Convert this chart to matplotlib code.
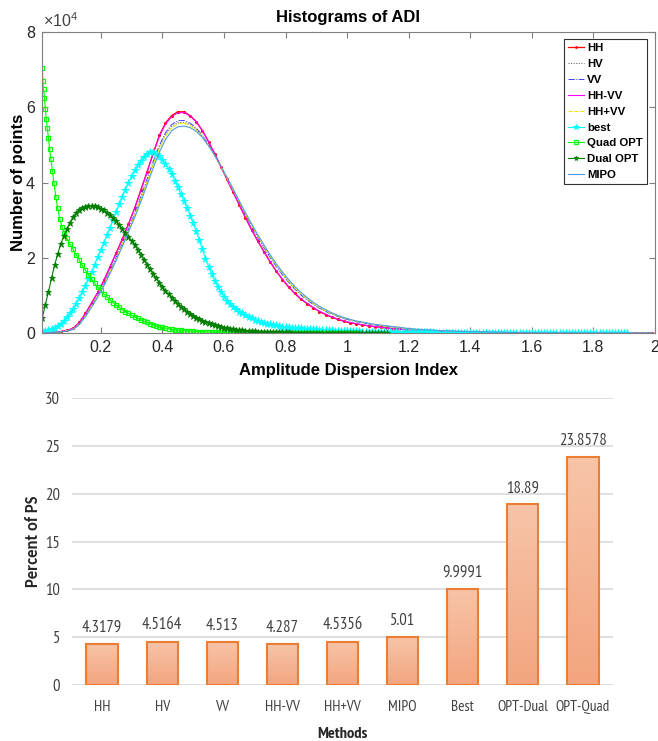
import numpy as np
import matplotlib
matplotlib.use('Agg')
import matplotlib.pyplot as plt
from matplotlib.colors import LinearSegmentedColormap
from matplotlib.ticker import FuncFormatter

plt.rcParams['mathtext.default'] = 'regular'

# ---------------- Histogram data (counts in units of 1e4) ----------------
adi = np.round(np.arange(0.01, 2.0, 0.02), 2)        # bin centres, coarse
adi_fine = np.round(np.arange(0.01, 2.0, 0.01), 2)   # bin centres, fine

hh = [0.00, 0.01, 0.02, 0.04, 0.07, 0.12, 0.28, 0.52, 0.80, 1.08,
      1.40, 1.76, 2.13, 2.50, 2.90, 3.32, 3.80, 4.28, 4.78, 5.25,
      5.58, 5.78, 5.88, 5.88, 5.78, 5.62, 5.38, 5.08, 4.76, 4.42,
      4.08, 3.74, 3.40, 3.06, 2.74, 2.44, 2.16, 1.89, 1.64, 1.42,
      1.22, 1.05, 0.90, 0.78, 0.67, 0.57, 0.49, 0.42, 0.36, 0.31,
      0.27, 0.24, 0.21, 0.19, 0.17, 0.15, 0.13, 0.11, 0.10, 0.09,
      0.08, 0.07, 0.06, 0.05, 0.045, 0.04, 0.035, 0.03, 0.027, 0.024,
      0.021, 0.019, 0.017, 0.015, 0.013, 0.012, 0.011, 0.010, 0.009, 0.008,
      0.007, 0.007, 0.006, 0.006, 0.005, 0.005, 0.004, 0.004, 0.004, 0.003,
      0.003, 0.003, 0.003, 0.002, 0.002, 0.002, 0.002, 0.002, 0.001, 0.001]

hv = [0.00, 0.01, 0.02, 0.03, 0.06, 0.10, 0.24, 0.46, 0.72, 0.99,
      1.29, 1.63, 1.99, 2.36, 2.74, 3.14, 3.58, 4.04, 4.50, 4.93,
      5.27, 5.49, 5.59, 5.60, 5.54, 5.42, 5.23, 4.99, 4.72, 4.42,
      4.11, 3.79, 3.47, 3.16, 2.85, 2.56, 2.29, 2.03, 1.79, 1.57,
      1.37, 1.19, 1.03, 0.90, 0.78, 0.68, 0.59, 0.51, 0.45, 0.39,
      0.35, 0.31, 0.28, 0.25, 0.22, 0.20, 0.18, 0.16, 0.14, 0.12,
      0.10, 0.09, 0.08, 0.07, 0.06, 0.055, 0.05, 0.045, 0.04, 0.035,
      0.03, 0.027, 0.024, 0.021, 0.019, 0.017, 0.015, 0.013, 0.012, 0.011,
      0.010, 0.009, 0.008, 0.007, 0.007, 0.006, 0.006, 0.005, 0.005, 0.004,
      0.004, 0.004, 0.003, 0.003, 0.003, 0.002, 0.002, 0.002, 0.002, 0.001]

vv = [0.00, 0.01, 0.02, 0.03, 0.06, 0.10, 0.24, 0.46, 0.72, 1.00,
      1.30, 1.65, 2.01, 2.38, 2.76, 3.17, 3.62, 4.08, 4.55, 4.98,
      5.32, 5.54, 5.64, 5.65, 5.58, 5.45, 5.25, 5.00, 4.72, 4.42,
      4.10, 3.78, 3.46, 3.14, 2.83, 2.54, 2.27, 2.01, 1.77, 1.55,
      1.35, 1.17, 1.01, 0.88, 0.76, 0.66, 0.57, 0.50, 0.44, 0.38,
      0.34, 0.30, 0.27, 0.24, 0.21, 0.19, 0.17, 0.15, 0.13, 0.12,
      0.10, 0.09, 0.08, 0.07, 0.06, 0.055, 0.05, 0.045, 0.04, 0.035,
      0.03, 0.027, 0.024, 0.021, 0.019, 0.017, 0.015, 0.013, 0.012, 0.011,
      0.010, 0.009, 0.008, 0.007, 0.007, 0.006, 0.006, 0.005, 0.005, 0.004,
      0.004, 0.004, 0.003, 0.003, 0.003, 0.002, 0.002, 0.002, 0.002, 0.001]

hh_minus_vv = [0.00, 0.01, 0.02, 0.04, 0.07, 0.12, 0.27, 0.51, 0.79, 1.07,
               1.39, 1.75, 2.12, 2.49, 2.89, 3.31, 3.78, 4.26, 4.76, 5.22,
               5.55, 5.75, 5.85, 5.86, 5.77, 5.61, 5.38, 5.09, 4.77, 4.43,
               4.09, 3.75, 3.41, 3.07, 2.75, 2.45, 2.17, 1.90, 1.65, 1.43,
               1.23, 1.06, 0.91, 0.79, 0.68, 0.58, 0.50, 0.43, 0.37, 0.32,
               0.28, 0.25, 0.22, 0.19, 0.17, 0.15, 0.13, 0.11, 0.10, 0.09,
               0.08, 0.07, 0.06, 0.05, 0.046, 0.041, 0.036, 0.031, 0.027, 0.024,
               0.021, 0.019, 0.017, 0.015, 0.014, 0.012, 0.011, 0.010, 0.009, 0.008,
               0.007, 0.007, 0.006, 0.006, 0.005, 0.005, 0.004, 0.004, 0.004, 0.003,
               0.003, 0.003, 0.003, 0.002, 0.002, 0.002, 0.002, 0.002, 0.001, 0.001]

hh_plus_vv = [0.00, 0.01, 0.02, 0.03, 0.06, 0.10, 0.23, 0.45, 0.71, 0.98,
              1.28, 1.62, 1.98, 2.35, 2.73, 3.13, 3.56, 4.01, 4.47, 4.90,
              5.24, 5.46, 5.56, 5.58, 5.52, 5.40, 5.22, 4.98, 4.71, 4.42,
              4.11, 3.80, 3.48, 3.17, 2.86, 2.57, 2.30, 2.04, 1.80, 1.58,
              1.38, 1.20, 1.04, 0.91, 0.79, 0.68, 0.59, 0.52, 0.45, 0.40,
              0.35, 0.31, 0.28, 0.25, 0.22, 0.20, 0.18, 0.16, 0.14, 0.12,
              0.10, 0.09, 0.08, 0.07, 0.06, 0.055, 0.05, 0.045, 0.04, 0.035,
              0.03, 0.027, 0.024, 0.021, 0.019, 0.017, 0.015, 0.013, 0.012, 0.011,
              0.010, 0.009, 0.008, 0.007, 0.007, 0.006, 0.006, 0.005, 0.005, 0.004,
              0.004, 0.004, 0.003, 0.003, 0.003, 0.002, 0.002, 0.002, 0.002, 0.001]

mipo = [0.00, 0.01, 0.02, 0.03, 0.05, 0.09, 0.22, 0.43, 0.68, 0.95,
        1.25, 1.58, 1.93, 2.30, 2.68, 3.07, 3.49, 3.93, 4.38, 4.80,
        5.14, 5.37, 5.48, 5.50, 5.46, 5.36, 5.20, 4.98, 4.72, 4.44,
        4.14, 3.83, 3.51, 3.20, 2.90, 2.61, 2.34, 2.08, 1.84, 1.62,
        1.42, 1.24, 1.08, 0.94, 0.82, 0.71, 0.62, 0.54, 0.47, 0.41,
        0.36, 0.32, 0.29, 0.26, 0.23, 0.21, 0.19, 0.17, 0.15, 0.13,
        0.11, 0.10, 0.09, 0.08, 0.07, 0.06, 0.055, 0.05, 0.045, 0.04,
        0.035, 0.03, 0.026, 0.023, 0.020, 0.018, 0.016, 0.014, 0.012, 0.011,
        0.010, 0.009, 0.008, 0.007, 0.007, 0.006, 0.006, 0.005, 0.005, 0.004,
        0.004, 0.004, 0.003, 0.003, 0.003, 0.002, 0.002, 0.002, 0.002, 0.001]

# fine-binned curves (bins 0.01, 0.02, ...)
best = [0.05, 0.06, 0.08, 0.11, 0.14, 0.19, 0.25, 0.33, 0.42, 0.52,
        0.64, 0.77, 0.92, 1.08, 1.25, 1.43, 1.62, 1.82, 2.02, 2.21,
        2.40, 2.60, 2.80, 3.01, 3.22, 3.42, 3.62, 3.81, 4.00, 4.17,
        4.32, 4.46, 4.58, 4.69, 4.77, 4.81, 4.81, 4.77, 4.70, 4.61,
        4.50, 4.37, 4.22, 4.05, 3.87, 3.69, 3.50, 3.31, 3.12, 2.92,
        2.70, 2.46, 2.22, 1.98, 1.76, 1.56, 1.38, 1.22, 1.08, 0.96,
        0.86, 0.77, 0.70, 0.63, 0.57, 0.52, 0.47, 0.43, 0.39, 0.35,
        0.32, 0.29, 0.27, 0.25, 0.23, 0.21, 0.20, 0.18, 0.17, 0.16,
        0.15, 0.14, 0.135, 0.13, 0.12, 0.115, 0.11, 0.105, 0.10, 0.095,
        0.09, 0.085, 0.08, 0.075, 0.07, 0.065, 0.06, 0.057, 0.055, 0.052,
        0.05, 0.047, 0.045, 0.042, 0.04, 0.038, 0.037, 0.035, 0.034, 0.032,
        0.031, 0.029, 0.028, 0.026, 0.025, 0.024, 0.023, 0.022, 0.021, 0.020,
        0.019, 0.018, 0.017, 0.017, 0.016, 0.015, 0.015, 0.014, 0.013, 0.013,
        0.012, 0.012, 0.011, 0.011, 0.010, 0.010, 0.010, 0.009, 0.009, 0.009,
        0.008, 0.008, 0.008, 0.008, 0.007, 0.007, 0.007, 0.007, 0.006, 0.006,
        0.006, 0.006, 0.006, 0.005, 0.005, 0.005, 0.005, 0.005, 0.005, 0.004,
        0.004, 0.004, 0.004, 0.004, 0.004, 0.004, 0.004, 0.003, 0.003, 0.003,
        0.003, 0.003, 0.003, 0.003, 0.003, 0.003, 0.003, 0.003, 0.003, 0.002,
        0.002, 0.002, 0.002, 0.002, 0.002, 0.002, 0.002, 0.002, 0.002, 0.002,
        0.002]

dual_opt = [0.40, 0.75, 1.10, 1.46, 1.80, 2.10, 2.36, 2.58, 2.76, 2.93,
            3.07, 3.18, 3.27, 3.32, 3.36, 3.38, 3.38, 3.37, 3.34, 3.30,
            3.26, 3.20, 3.14, 3.06, 2.97, 2.87, 2.76, 2.66, 2.56, 2.45,
            2.33, 2.21, 2.08, 1.95, 1.82, 1.69, 1.56, 1.45, 1.34, 1.23,
            1.12, 1.03, 0.94, 0.86, 0.78, 0.70, 0.63, 0.57, 0.51, 0.46,
            0.41, 0.37, 0.33, 0.29, 0.26, 0.23, 0.20, 0.18, 0.16, 0.14,
            0.12, 0.11, 0.10, 0.09, 0.08, 0.07, 0.06, 0.055, 0.05, 0.045,
            0.04, 0.035, 0.03, 0.028, 0.025, 0.022, 0.02, 0.019, 0.017, 0.016,
            0.014, 0.013, 0.012, 0.011, 0.010, 0.010, 0.009, 0.009, 0.008, 0.008,
            0.007, 0.007, 0.006, 0.006, 0.005, 0.005, 0.005, 0.005, 0.004, 0.004,
            0.004, 0.004, 0.003, 0.003, 0.003, 0.003, 0.003, 0.003, 0.002, 0.002,
            0.002, 0.002, 0.002]

quad_adi_start = [0.010, 0.012, 0.014, 0.017, 0.020, 0.023, 0.026, 0.030, 0.034,
                  0.038, 0.043, 0.048, 0.054, 0.060, 0.067, 0.074, 0.082, 0.090]
quad_opt_start = [7.05, 6.70, 6.48, 6.25, 5.95, 5.68, 5.45, 5.18, 4.88,
                  4.62, 4.30, 3.98, 3.62, 3.32, 3.03, 2.82, 2.66, 2.52]
quad_opt_tail = [2.36, 2.22, 2.08, 1.94, 1.80, 1.67, 1.55, 1.43, 1.32, 1.22,   # bins 0.10 ...
                 1.13, 1.04, 0.96, 0.88, 0.81, 0.74, 0.68, 0.62, 0.57, 0.52,
                 0.47, 0.43, 0.39, 0.35, 0.31, 0.28, 0.25, 0.22, 0.19, 0.17,
                 0.15, 0.13, 0.115, 0.10, 0.09, 0.08, 0.072, 0.065, 0.057, 0.05,
                 0.045, 0.04, 0.036, 0.032, 0.029, 0.026, 0.023, 0.021, 0.019, 0.017,
                 0.015, 0.014, 0.012, 0.011, 0.010, 0.010, 0.009, 0.009, 0.008, 0.008,
                 0.007, 0.007, 0.006, 0.006, 0.005, 0.005, 0.005, 0.005, 0.004, 0.004,
                 0.004, 0.004, 0.003, 0.003, 0.003, 0.003, 0.003, 0.003, 0.002, 0.002,
                 0.002, 0.002, 0.002, 0.002, 0.002, 0.002, 0.002, 0.002, 0.001, 0.001,
                 0.001, 0.001, 0.001, 0.001]

hist_xticks = [0.2, 0.4, 0.6, 0.8, 1.0, 1.2, 1.4, 1.6, 1.8, 2.0]
hist_yticks = [0, 2, 4, 6, 8]

# ---------------- Bar chart data ----------------
methods = ['HH', 'HV', 'VV', 'HH-VV', 'HH+VV', 'MIPO', 'Best', 'OPT-Dual', 'OPT-Quad']
percent_ps = [4.3179, 4.5164, 4.513, 4.287, 4.5356, 5.01, 9.9991, 18.89, 23.8578]
bar_yticks = [0, 5, 10, 15, 20, 25, 30]

# ================= Figure =================
fig = plt.figure(figsize=(6.58, 7.41), dpi=100)
fig.patch.set_facecolor('white')

SANS = ['Liberation Sans', 'DejaVu Sans']
NARROW = ['PT Sans Narrow', 'Carlito', 'DejaVu Sans']
CAL = ['Carlito', 'Liberation Sans', 'DejaVu Sans']

# ---- top: histograms ----
ax = fig.add_axes([0.0638, 0.5506, 0.9316, 0.4062])

def xc(series):
    return adi[:len(series)]

def xf(series):
    return adi_fine[:len(series)]

quad_adi = np.concatenate([quad_adi_start, adi_fine[9:9 + len(quad_opt_tail)]])
quad_opt = quad_opt_start + quad_opt_tail

ax.plot(xc(hh), hh, color='#ff0000', lw=0.9, marker='.', ms=2.5, label='HH')
ax.plot(xc(hv), hv, color='#555555', lw=0.7, ls=':', label='HV')
ax.plot(xc(vv), vv, color='#4040ff', lw=0.7, ls='-.', label='VV')
ax.plot(xc(hh_minus_vv), hh_minus_vv, color='#ff00ff', lw=0.8, label='HH-VV')
ax.plot(xc(hh_plus_vv), hh_plus_vv, color='#e8e800', lw=0.8, ls='--', label='HH+VV')
ax.plot(xf(best), best, color='#00ffff', lw=0.8, marker='*', ms=5.5, mew=0.6,
        label='best')
ax.plot(quad_adi, quad_opt, color='#00ff00', lw=0.8, marker='s', ms=3.2,
        mfc='none', mew=0.9, label='Quad OPT')
ax.plot(xf(dual_opt), dual_opt, color='#007f00', lw=0.8, marker='*', ms=4.5,
        mew=0.6, label='Dual OPT')
ax.plot(xc(mipo), mipo, color='#4d9de0', lw=0.8, label='MIPO')

ax.set_xlim(0.009, 2.0)
ax.set_ylim(0, 8)
ax.set_xticks(hist_xticks)
ax.set_yticks(hist_yticks)
ax.xaxis.set_major_formatter(FuncFormatter(lambda v, p: f'{v:g}'))
ax.tick_params(direction='in', top=True, right=True, length=4, width=0.8,
               color='#7f7f7f', labelcolor='#262626', labelsize=11.5, pad=5)
for lab in ax.get_xticklabels() + ax.get_yticklabels():
    lab.set_family(SANS)
for s in ax.spines.values():
    s.set_color('#7f7f7f')
    s.set_linewidth(0.8)

ax.set_title('Histograms of ADI', fontsize=12, fontweight='bold', family=SANS,
             color='black', pad=7)
ax.set_xlabel('Amplitude Dispersion Index', fontsize=12, fontweight='bold',
              family=SANS, labelpad=6, color='black')
ax.set_ylabel('Number of points', fontsize=12, fontweight='bold', family=SANS,
              labelpad=0, color='black')
ax.text(0.002, 1.008, r'$\times10^{4}$', transform=ax.transAxes, ha='left',
        va='bottom', fontsize=11.5, color='#404040', family=SANS)

leg = ax.legend(loc='upper right', bbox_to_anchor=(0.987, 0.977), borderaxespad=0,
                prop={'family': SANS, 'weight': 'bold', 'size': 8.2},
                frameon=True, fancybox=False, framealpha=1, edgecolor='#333333',
                handlelength=1.45, handletextpad=0.25, labelspacing=0.52,
                borderpad=0.35, markerscale=0.8)
leg.get_frame().set_linewidth(0.8)

# ---- bottom: bar chart ----
ax2 = fig.add_axes([0.1094, 0.0756, 0.8222, 0.3869])
xpos = np.arange(len(methods))
bars = ax2.bar(xpos, percent_ps, width=0.52, facecolor='none',
               edgecolor='#ED7D31', linewidth=1.5, zorder=3)
grad_cmap = LinearSegmentedColormap.from_list('g', ['#F3A580', '#F7C4A7'])
grad = np.linspace(0, 1, 64).reshape(-1, 1)
for b in bars:
    x0 = b.get_x()
    ax2.imshow(grad, extent=(x0, x0 + b.get_width(), 0, b.get_height()),
               origin='lower', cmap=grad_cmap, aspect='auto', zorder=2,
               interpolation='bilinear')
for xi, v in zip(xpos, percent_ps):
    ax2.annotate(str(v), (xi, v), xytext=(0, 6), textcoords='offset points',
                 ha='center', va='bottom', fontsize=12, color='#404040',
                 family=NARROW)

ax2.set_xlim(-0.5, len(methods) - 0.5)
ax2.set_ylim(0, 30)
ax2.set_yticks(bar_yticks)
ax2.set_xticks(xpos)
ax2.set_xticklabels(methods)
ax2.grid(axis='y', color='#D9D9D9', linewidth=1.2, zorder=0)
ax2.set_axisbelow(True)
for s in ax2.spines.values():
    s.set_visible(False)
ax2.tick_params(axis='both', length=0, labelcolor='#404040')
ax2.tick_params(axis='y', pad=8.6, labelsize=12)
ax2.tick_params(axis='x', pad=11, labelsize=11)
for lab in ax2.get_xticklabels() + ax2.get_yticklabels():
    lab.set_family(NARROW)
ax2.set_xlabel('Methods', fontsize=11.8, fontweight='bold', family=NARROW,
               color='#262626', labelpad=9)
ax2.set_ylabel('Percent of PS', fontsize=12, fontweight='bold', family=CAL,
               color='#262626', labelpad=3)

fig.savefig('out.png', dpi=100, facecolor='white')
